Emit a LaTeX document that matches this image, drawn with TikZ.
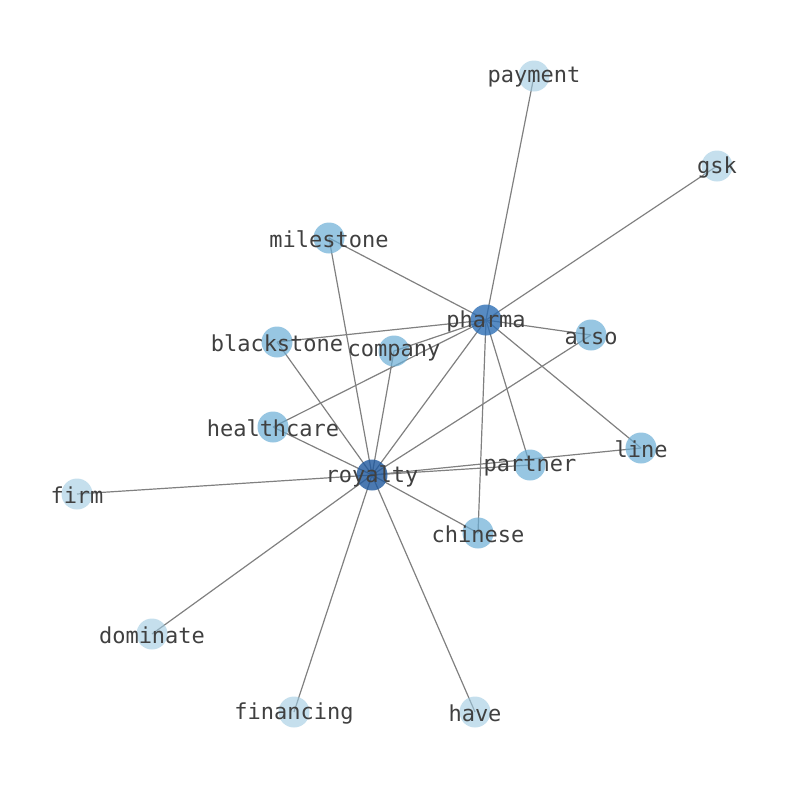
\documentclass[tikz,border=0pt]{standalone}
\usepackage{fontspec}
\setmonofont{DejaVu Sans Mono}
\usepackage{tikz}
\usetikzlibrary{backgrounds}
\definecolor{hubdark}{RGB}{30,88,158}
\definecolor{hubmid}{RGB}{45,110,180}
\definecolor{twodeg}{RGB}{107,174,214}
\definecolor{onedeg}{RGB}{158,202,225}
\definecolor{wordcol}{RGB}{64,64,64}

\begin{document}
\begin{tikzpicture}[
			x=1pt, y=-1pt,
			dot/.style={
				circle,
				draw=none,
				inner sep=0pt,
				minimum size=31pt,
				label={[font=\ttfamily\fontsize{22}{26}\selectfont,text=wordcol,yshift=-1.5pt]center:#1}
			},
			hub/.style={fill=hubdark,fill opacity=0.8},
			hubb/.style={fill=hubmid,fill opacity=0.8},
			pair/.style={fill=twodeg,fill opacity=0.7},
			leaf/.style={fill=onedeg,fill opacity=0.6},
			edge/.style={draw=gray,line width=1.2pt}
			]
			\useasboundingbox (0,0) rectangle (794,790);
			
			\node[dot=royalty,hub] (royalty) at (372,475) {};
			\node[dot=pharma,hubb] (pharma) at (486,320) {};
			
			\node[dot=milestone,pair] (milestone) at (329,238) {};
			\node[dot=also,pair] (also) at (591,335) {};
			\node[dot=blackstone,pair] (blackstone) at (277,342) {};
			\node[dot=company,pair] (company) at (394,351) {};
			\node[dot=healthcare,pair] (healthcare) at (273,427) {};
			\node[dot=line,pair] (line) at (641,448) {};
			\node[dot=partner,pair] (partner) at (530,465) {};
			\node[dot=chinese,pair] (chinese) at (478,533) {};
			
			\node[dot=payment,leaf] (payment) at (534,76) {};
			\node[dot=gsk,leaf] (gsk) at (717,166) {};
			\node[dot=firm,leaf] (firm) at (77,494) {};
			\node[dot=dominate,leaf] (dominate) at (152,634) {};
			\node[dot=financing,leaf] (financing) at (294,712) {};
			\node[dot=have,leaf] (have) at (475,712) {};
			
			\begin{scope}[on background layer]
				\foreach \w in {payment,gsk,milestone,blackstone,company,healthcare,royalty,also,line,partner,chinese}
				\draw[edge] (pharma.center) -- (\w.center);
				\foreach \w in {milestone,blackstone,company,healthcare,firm,also,line,partner,chinese,dominate,financing,have}
				\draw[edge] (royalty.center) -- (\w.center);
			\end{scope}
			
		\end{tikzpicture}
\end{document}
